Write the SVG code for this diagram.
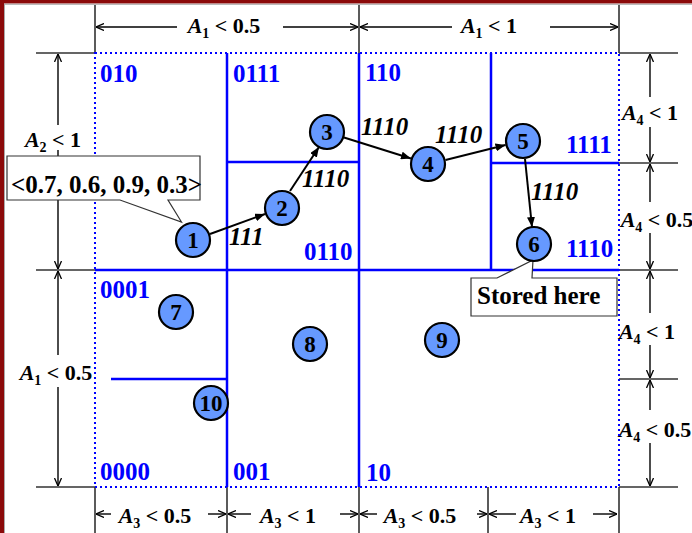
<svg xmlns="http://www.w3.org/2000/svg" width="692" height="533" viewBox="0 0 692 533">
<defs>
<style>
.grid{stroke:#0000ff;stroke-width:2.5;fill:none}
.dot{stroke:#0000ff;stroke-width:2;stroke-dasharray:2 3;fill:none}
.tick{stroke:#333;stroke-width:1.6;fill:none}
.dim{stroke:#000;stroke-width:1.4;fill:none}
.blue{font-family:"Liberation Serif","Times New Roman",serif;font-weight:bold;font-size:25px;fill:#0000ff}
.lab{font-family:"Liberation Serif","Times New Roman",serif;font-weight:bold;font-style:italic;font-size:25px;fill:#000}
.dt{font-family:"Liberation Serif","Times New Roman",serif;font-weight:bold;font-size:22px;fill:#000;text-anchor:middle}
.dt .a{font-style:italic}
.dt .s{font-size:14px}
.node circle{fill:#6699ff;stroke:#000;stroke-width:2.2}
.node text{font-family:"Liberation Serif","Times New Roman",serif;font-weight:bold;font-size:23px;fill:#000;text-anchor:middle}
.edge{stroke:#000;stroke-width:2;fill:none;marker-end:url(#ah)}
.call{fill:#fff;stroke:#333;stroke-width:1.2}
.ct{font-family:"Liberation Serif","Times New Roman",serif;font-weight:bold;font-size:25px;fill:#000}
</style>
<marker id="ah" viewBox="0 0 10 8" refX="10" refY="4" markerWidth="10" markerHeight="8" markerUnits="userSpaceOnUse" orient="auto">
<path d="M0,0 L10,4 L0,8 Z" fill="#000"/>
</marker>
<marker id="oa" viewBox="0 0 8 8" refX="8" refY="4" markerWidth="8" markerHeight="8" markerUnits="userSpaceOnUse" orient="auto">
<path d="M0,0.5 L8,4 L0,7.5" fill="none" stroke="#000" stroke-width="1.3"/>
</marker>
</defs>
<rect x="0" y="0" width="692" height="533" fill="#fff"/>
<!-- frame -->
<rect x="0" y="0" width="692" height="3.5" fill="#8b0a0a"/>
<rect x="0" y="0" width="4" height="533" fill="#8b0a0a"/>
<line x1="4" y1="4.3" x2="692" y2="4.3" stroke="#aaa" stroke-width="1"/>
<line x1="4.5" y1="4" x2="4.5" y2="533" stroke="#aaa" stroke-width="1"/>

<!-- dimension ticks -->
<g id="ticks" class="tick">
<path d="M95,5 V53 M359,5 V53 M619,5 V53"/>
<path d="M36,53 H95 M36,270 H95 M36,487 H95"/>
<path d="M619,53 H678 M619,163 H678 M619,270 H678 M619,379 H678 M619,487 H678"/>
<path d="M95,487 V533 M227,487 V533 M359,487 V533 M488,487 V533 M619,487 V533"/>
</g>

<!-- dimension arrows -->
<g id="dims" class="dim">
<line x1="177" y1="27" x2="96" y2="27" marker-end="url(#oa)"/>
<line x1="283" y1="27" x2="358" y2="27" marker-end="url(#oa)"/>
<line x1="452" y1="27" x2="360" y2="27" marker-end="url(#oa)"/>
<line x1="550" y1="27" x2="618" y2="27" marker-end="url(#oa)"/>
<line x1="58" y1="125" x2="58" y2="54" marker-end="url(#oa)"/>
<line x1="58" y1="150" x2="58" y2="269" marker-end="url(#oa)"/>
<line x1="58" y1="355" x2="58" y2="271" marker-end="url(#oa)"/>
<line x1="58" y1="387" x2="58" y2="486" marker-end="url(#oa)"/>
<line x1="650" y1="97" x2="650" y2="54" marker-end="url(#oa)"/>
<line x1="650" y1="127" x2="650" y2="162" marker-end="url(#oa)"/>
<line x1="650" y1="202" x2="650" y2="164" marker-end="url(#oa)"/>
<line x1="650" y1="233" x2="650" y2="269" marker-end="url(#oa)"/>
<line x1="650" y1="313" x2="650" y2="271" marker-end="url(#oa)"/>
<line x1="650" y1="345" x2="650" y2="378" marker-end="url(#oa)"/>
<line x1="650" y1="410" x2="650" y2="380" marker-end="url(#oa)"/>
<line x1="650" y1="443" x2="650" y2="486" marker-end="url(#oa)"/>
<line x1="111" y1="514" x2="96" y2="514" marker-end="url(#oa)"/>
<line x1="208" y1="514" x2="226" y2="514" marker-end="url(#oa)"/>
<line x1="251" y1="514" x2="228" y2="514" marker-end="url(#oa)"/>
<line x1="340" y1="514" x2="358" y2="514" marker-end="url(#oa)"/>
<line x1="377" y1="514" x2="360" y2="514" marker-end="url(#oa)"/>
<line x1="477" y1="514" x2="487" y2="514" marker-end="url(#oa)"/>
<line x1="516" y1="514" x2="489" y2="514" marker-end="url(#oa)"/>
<line x1="593" y1="514" x2="617" y2="514" marker-end="url(#oa)"/>
</g>

<!-- dimension texts -->
<g id="dimtext">
<text class="dt" x="224" y="33"><tspan class="a">A</tspan><tspan class="s" dy="5">1</tspan><tspan dy="-5"> &lt; 0.5</tspan></text>
<text class="dt" x="489" y="33"><tspan class="a">A</tspan><tspan class="s" dy="5">1</tspan><tspan dy="-5"> &lt; 1</tspan></text>
<text class="dt" x="53" y="147"><tspan class="a">A</tspan><tspan class="s" dy="5">2</tspan><tspan dy="-5"> &lt; 1</tspan></text>
<text class="dt" x="56" y="380"><tspan class="a">A</tspan><tspan class="s" dy="5">1</tspan><tspan dy="-5"> &lt; 0.5</tspan></text>
<text class="dt" x="650" y="120"><tspan class="a">A</tspan><tspan class="s" dy="5">4</tspan><tspan dy="-5"> &lt; 1</tspan></text>
<text class="dt" x="657" y="227"><tspan class="a">A</tspan><tspan class="s" dy="5">4</tspan><tspan dy="-5"> &lt; 0.5</tspan></text>
<text class="dt" x="647" y="339"><tspan class="a">A</tspan><tspan class="s" dy="5">4</tspan><tspan dy="-5"> &lt; 1</tspan></text>
<text class="dt" x="655" y="437"><tspan class="a">A</tspan><tspan class="s" dy="5">4</tspan><tspan dy="-5"> &lt; 0.5</tspan></text>
<text class="dt" x="155" y="523"><tspan class="a">A</tspan><tspan class="s" dy="5">3</tspan><tspan dy="-5"> &lt; 0.5</tspan></text>
<text class="dt" x="288" y="523"><tspan class="a">A</tspan><tspan class="s" dy="5">3</tspan><tspan dy="-5"> &lt; 1</tspan></text>
<text class="dt" x="420" y="523"><tspan class="a">A</tspan><tspan class="s" dy="5">3</tspan><tspan dy="-5"> &lt; 0.5</tspan></text>
<text class="dt" x="548" y="523"><tspan class="a">A</tspan><tspan class="s" dy="5">3</tspan><tspan dy="-5"> &lt; 1</tspan></text>
</g>

<!-- grid -->
<g id="grid">
<rect class="dot" x="95" y="53" width="524" height="434"/>
<path class="grid" d="M227,53 V487 M359,53 V487 M491,53 V270 M95,270 H619 M227,162 H359 M491,163 H619 M111,379 H227"/>
</g>

<!-- region labels -->
<g id="regions">
<text class="blue" x="100" y="82">010</text>
<text class="blue" x="233" y="82">0111</text>
<text class="blue" x="365" y="81">110</text>
<text class="blue" x="566" y="153">1111</text>
<text class="blue" x="304" y="260">0110</text>
<text class="blue" x="566" y="257">1110</text>
<text class="blue" x="100" y="298">0001</text>
<text class="blue" x="100" y="480">0000</text>
<text class="blue" x="233" y="480">001</text>
<text class="blue" x="366" y="481">10</text>
</g>

<!-- callouts -->
<g id="callout-vector">
<path class="call" d="M7,156 H200 V200 H168 L181.5,222 L120,200 H7 Z"/>
<text class="ct" x="11" y="193">&lt;0.7, 0.6, 0.9, 0.3&gt;</text>
</g>
<g id="callout-stored">
<path class="call" d="M471,278 H497 L533,260 L532,278 H617 V316 H471 Z"/>
<text class="ct" x="477" y="304">Stored here</text>
</g>

<!-- connectors -->
<g id="connectors">
<line class="edge" x1="210" y1="234" x2="265" y2="214"/>
<line class="edge" x1="290" y1="191" x2="319" y2="147"/>
<line class="edge" x1="344" y1="137.5" x2="411" y2="158.5"/>
<line class="edge" x1="445.5" y1="160" x2="505.5" y2="145"/>
<line class="edge" x1="525" y1="159" x2="532" y2="227"/>
<text class="lab" x="229" y="245">111</text>
<text class="lab" x="302" y="187">1110</text>
<text class="lab" x="361" y="135">1110</text>
<text class="lab" x="435" y="143">1110</text>
<text class="lab" x="531" y="200">1110</text>
</g>

<!-- nodes -->
<g id="n1" class="node"><circle cx="193" cy="240" r="17"/><text x="193" y="248">1</text></g>
<g id="n2" class="node"><circle cx="282" cy="208" r="17"/><text x="282" y="216">2</text></g>
<g id="n3" class="node"><circle cx="327" cy="132" r="17"/><text x="327" y="140">3</text></g>
<g id="n4" class="node"><circle cx="428" cy="164" r="17"/><text x="428" y="172">4</text></g>
<g id="n5" class="node"><circle cx="523" cy="141" r="17"/><text x="523" y="149">5</text></g>
<g id="n6" class="node"><circle cx="534" cy="244" r="17"/><text x="534" y="252">6</text></g>
<g id="n7" class="node"><circle cx="176" cy="312" r="17"/><text x="176" y="320">7</text></g>
<g id="n8" class="node"><circle cx="310" cy="344" r="17"/><text x="310" y="352">8</text></g>
<g id="n9" class="node"><circle cx="442" cy="340" r="17"/><text x="442" y="348">9</text></g>
<g id="n10" class="node"><circle cx="211" cy="403" r="17"/><text x="211" y="411">10</text></g>
</svg>
